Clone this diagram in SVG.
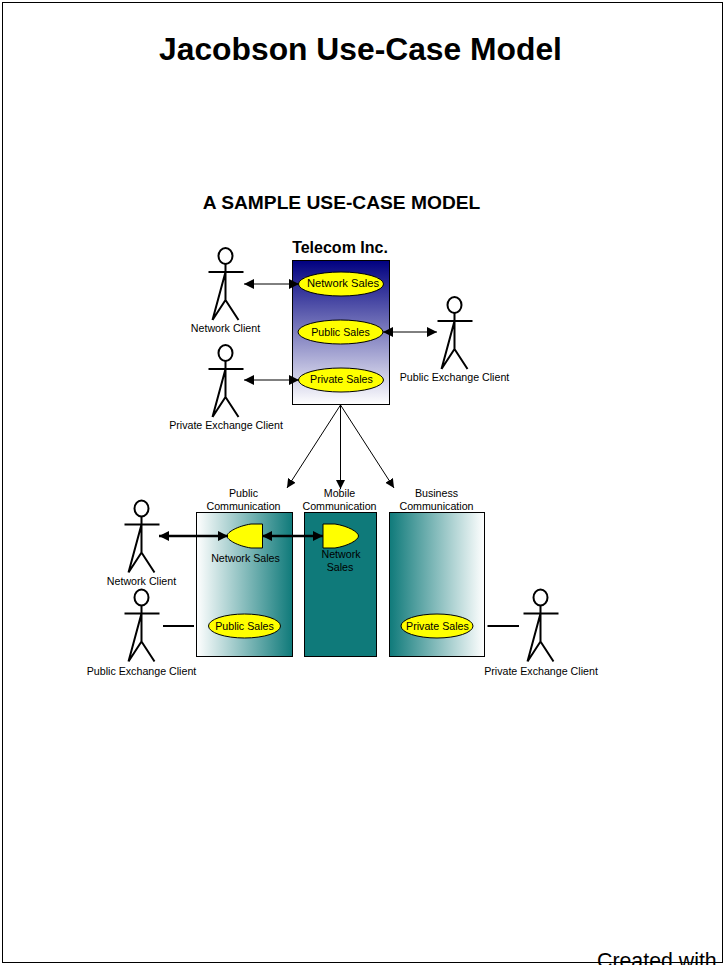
<svg xmlns="http://www.w3.org/2000/svg" width="724" height="965" viewBox="0 0 724 965">
<style>
text{font-family:"Liberation Sans",Arial,sans-serif;fill:#000}
.t{font-size:10.67px;text-anchor:middle}
.b{font-weight:bold;text-anchor:middle}
.box{stroke:#000;stroke-width:1}
.y{fill:#ff0;stroke:#000;stroke-width:1}
.a{fill:none;stroke:#000;stroke-width:2}
.c{fill:none;stroke:#000;stroke-width:1;marker-start:url(#h);marker-end:url(#h)}
.d{fill:none;stroke:#000;stroke-width:1;marker-end:url(#s)}
.k{fill:none;stroke:#000;stroke-width:2.5;marker-start:url(#hk);marker-end:url(#hk)}
.l{fill:none;stroke:#000;stroke-width:2}
</style>
<defs>
<linearGradient id="g1" x1="0" y1="0" x2="0" y2="1"><stop offset="0" stop-color="#000080"/><stop offset="1" stop-color="#fff"/></linearGradient>
<linearGradient id="g2" x1="0" y1="0" x2="1" y2="0"><stop offset="0" stop-color="#fff"/><stop offset="1" stop-color="#0f7a7a"/></linearGradient>
<linearGradient id="g3" x1="0" y1="0" x2="1" y2="0"><stop offset="0" stop-color="#0f7a7a"/><stop offset="1" stop-color="#fff"/></linearGradient>
<marker id="h" markerUnits="userSpaceOnUse" markerWidth="11" markerHeight="11" refX="10" refY="5.5" orient="auto-start-reverse" viewBox="0 0 11 11"><path d="M0,0.5L10,5.5L0,10.5Z"/></marker>
<marker id="hk" markerUnits="userSpaceOnUse" markerWidth="11" markerHeight="11" refX="10" refY="5.5" orient="auto-start-reverse" viewBox="0 0 11 11"><path d="M0,0.5L10,5.5L0,10.5Z"/></marker>
<marker id="s" markerUnits="userSpaceOnUse" markerWidth="10" markerHeight="10" refX="9" refY="5" orient="auto" viewBox="0 0 10 10"><path d="M0,0.5L9,5L0,9.5Z"/></marker>
<g id="actor"><ellipse cx="0" cy="0" rx="7" ry="8" class="a"/><path class="a" d="M-17,16H18M0,8V44L-13,64M0,44L13,64M0,16L-13,64"/></g>
</defs>
<rect id="frame" x="2.5" y="2.5" width="720" height="960" fill="#fff" stroke="#000"/>
<text class="b" x="360.5" y="60" font-size="31.8">Jacobson Use-Case Model</text>
<text class="b" x="341.5" y="209" font-size="19.2">A SAMPLE USE-CASE MODEL</text>
<g id="telecom"><rect class="box" x="292.5" y="260.5" width="97" height="144" fill="url(#g1)"/><text class="b" x="340" y="253" font-size="16">Telecom Inc.</text></g>
<g id="public-communication"><rect class="box" x="196.5" y="512.5" width="96" height="144" fill="url(#g2)"/><text class="t" x="243.5" y="497">Public</text><text class="t" x="243.5" y="510">Communication</text></g>
<g id="mobile-communication"><rect class="box" x="304.5" y="512.5" width="72" height="144" fill="#0f7a7a"/><text class="t" x="339.5" y="497">Mobile</text><text class="t" x="339.5" y="510">Communication</text></g>
<g id="business-communication"><rect class="box" x="389.5" y="512.5" width="95" height="144" fill="url(#g3)"/><text class="t" x="436.5" y="497">Business</text><text class="t" x="436.5" y="510">Communication</text></g>
<g id="uc-network-sales"><ellipse class="y" cx="341" cy="284" rx="42.5" ry="12"/><text class="t" x="343" y="287" style="font-size:11.2px">Network Sales</text></g>
<g id="uc-public-sales"><ellipse class="y" cx="340.5" cy="332" rx="42.5" ry="12"/><text class="t" x="340.5" y="336">Public Sales</text></g>
<g id="uc-private-sales"><ellipse class="y" cx="341" cy="380" rx="42.5" ry="12"/><text class="t" x="341.5" y="383">Private Sales</text></g>
<g id="uc-public-network"><path class="y" d="M262.5,524H251C238,526 227,532 227,536C227,540 238,546 251,548H262.5Z"/><text class="t" x="245.5" y="562">Network Sales</text></g>
<g id="uc-mobile-network"><path class="y" d="M323,524H335C348,526 358.5,532 358.5,536C358.5,540 348,546 335,548H323Z"/><text class="t" x="341" y="558">Network</text><text class="t" x="340" y="571">Sales</text></g>
<g id="uc-public-sales-2"><ellipse class="y" cx="244.5" cy="626" rx="36" ry="12"/><text class="t" x="244.5" y="630">Public Sales</text></g>
<g id="uc-private-sales-2"><ellipse class="y" cx="437" cy="626" rx="36" ry="12"/><text class="t" x="437.5" y="630">Private Sales</text></g>
<g id="connectors">
<path class="d" d="M340.5,405L287,488"/><path class="d" d="M340.5,405V489"/><path class="d" d="M340.5,405L394,488"/>
<path class="c" d="M244,284H299"/><path class="c" d="M383,332H437"/><path class="c" d="M244,380H299"/>
<path class="k" d="M159,536H228"/><path class="k" d="M262,536H323"/>
<path class="l" d="M163,626H194"/><path class="l" d="M487.5,626H519"/>
</g>
<g id="actor-network-client"><use href="#actor" x="225.5" y="256"/><text class="t" x="225.5" y="332">Network Client</text></g>
<g id="actor-private-exchange-client"><use href="#actor" x="225.5" y="353"/><text class="t" x="226" y="429">Private Exchange Client</text></g>
<g id="actor-public-exchange-client"><use href="#actor" x="454.5" y="305"/><text class="t" x="454.5" y="381">Public Exchange Client</text></g>
<g id="actor-network-client-2"><use href="#actor" x="141.5" y="508.5"/><text class="t" x="141.5" y="585">Network Client</text></g>
<g id="actor-public-exchange-client-2"><use href="#actor" x="141.5" y="597.5"/><text class="t" x="141.5" y="675">Public Exchange Client</text></g>
<g id="actor-private-exchange-client-2"><use href="#actor" x="540.5" y="597.5"/><text class="t" x="541" y="675">Private Exchange Client</text></g>
<text x="597" y="968" font-size="21.33">Created with</text>
</svg>
